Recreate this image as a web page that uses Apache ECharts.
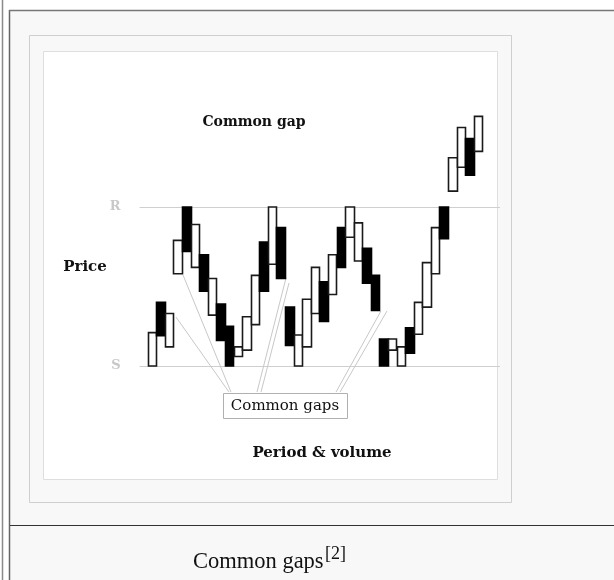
<!DOCTYPE html>
<html lang="en">
<head>
  <meta charset="UTF-8" />
  <title>Common gaps</title>
  <script src="https://cdn.jsdelivr.net/npm/echarts@6/dist/echarts.min.js"></script>
  <style>
    html, body { margin: 0; padding: 0; background: #fff; }
  </style>
</head>
<body>
  <div id="main" style="width: 614px; height: 580px;"></div>
  <script type="text/javascript">
    // price units: S line = 0, R line = 100
    let periods = Array.from({ length: 39 }, (_, i) => String(i + 1));
    let opens  = [0, 40, 12, 58, 100, 62, 70, 32, 39, 25, 6, 10, 26, 78, 64, 87, 37, 0, 12, 33,
                  53, 45, 87, 81, 66, 74, 57, 17, 10, 0, 24, 20, 37, 58, 100, 110, 125, 143, 135];
    let closes = [21, 19, 33, 79, 72, 89, 47, 55, 16, 0, 12, 31, 57, 47, 100, 55, 13, 19.5, 42, 62,
                  28, 70, 62, 100, 90, 52, 35, 0, 17, 12, 8, 40, 65, 87, 80, 131, 150, 120, 157];
    let support = 0;
    let resistance = 100;
    // leader lines from each gap to the "Common gaps" box: [[from], [to]] as [slot, price]
    let gapLeaders = [
      [[5.06, 57.2], [10.65, -16.4]],
      [[4.24, 30.8], [10.42, -16.4]],
      [[17.06, 55.3], [13.68, -16.4]],
      [[17.41, 52.2], [14.15, -16.4]],
      [[28.13, 34.6], [22.89, -16.4]],
      [[28.83, 34.6], [23.36, -16.4]]
    ];

    // one empty slot before, two after, so the R / S lines run past the candles
    let categories = [''].concat(periods, ['', '']);
    let candles = ['-'].concat(opens.map(function (o, i) {
      let c = closes[i];
      return [o, c, Math.min(o, c), Math.max(o, c)];
    }), ['-', '-']);

    let serif = '"DejaVu Serif", serif';
    let capFont = '"Liberation Serif", "Times New Roman", serif';

    var myChart = echarts.init(document.getElementById('main'));

    let leaderSeries = gapLeaders.map(function (seg) {
      return {
        type: 'line',
        xAxisIndex: 1,
        yAxisIndex: 0,
        data: seg,
        symbol: 'none',
        silent: true,
        z: 1,
        lineStyle: { color: '#c8c8c8', width: 1 }
      };
    });

    myChart.setOption({
      backgroundColor: '#fff',
      animation: false,
      graphic: [
        // wiki-style thumbnail frame
        { type: 'rect', z: -10, shape: { x: 9, y: 10, width: 606, height: 571 }, style: { fill: '#f8f8f8' } },
        { type: 'line', z: -9, shape: { x1: 2.5, y1: 0, x2: 2.5, y2: 580 }, style: { stroke: '#8a8a8a', lineWidth: 1.5 } },
        { type: 'line', z: -9, shape: { x1: 9.5, y1: 10, x2: 9.5, y2: 580 }, style: { stroke: '#666', lineWidth: 1.5 } },
        { type: 'line', z: -9, shape: { x1: 9, y1: 10.5, x2: 614, y2: 10.5 }, style: { stroke: '#777', lineWidth: 1.5 } },
        { type: 'rect', z: -8, shape: { x: 29.5, y: 35.5, width: 482, height: 467 }, style: { fill: '#f8f8f8', stroke: '#cfcfcf', lineWidth: 1 } },
        { type: 'rect', z: -7, shape: { x: 43.5, y: 51.5, width: 454, height: 428 }, style: { fill: '#fff', stroke: '#dedede', lineWidth: 1 } },
        { type: 'line', z: -9, shape: { x1: 10, y1: 525.5, x2: 614, y2: 525.5 }, style: { stroke: '#333', lineWidth: 1.2 } },
        // caption
        { type: 'text', x: 193, y: 562, style: { text: 'Common gaps', font: '22.5px ' + capFont, fill: '#111', verticalAlign: 'middle' } },
        { type: 'text', x: 325, y: 554, style: { text: '[2]', font: '18px ' + capFont, fill: '#111', verticalAlign: 'middle' } },
        // texts inside the picture
        { type: 'text', x: 254, y: 122, style: { text: 'Common gap', font: 'bold 14px ' + serif, fill: '#111', align: 'center', verticalAlign: 'middle' } },
        { type: 'text', x: 85, y: 267, style: { text: 'Price', font: 'bold 15px ' + serif, fill: '#111', align: 'center', verticalAlign: 'middle' } },
        { type: 'text', x: 322, y: 453, style: { text: 'Period & volume', font: 'bold 15px ' + serif, fill: '#111', align: 'center', verticalAlign: 'middle' } },
        {
          type: 'group', z: 50,
          children: [
            { type: 'rect', shape: { x: 223.5, y: 393.5, width: 124, height: 25 }, style: { fill: '#fff', stroke: '#b0b0b0', lineWidth: 1 } },
            { type: 'text', x: 285, y: 406, style: { text: 'Common gaps', font: '15px ' + serif, fill: '#111', align: 'center', verticalAlign: 'middle' } }
          ]
        }
      ],
      grid: { left: 139.6, top: 95.7, width: 360.4, height: 365.7 },
      xAxis: [
        { type: 'category', data: categories, show: false, boundaryGap: true },
        { type: 'value', min: 0, max: categories.length, show: false, splitLine: { show: false } }
      ],
      yAxis: { type: 'value', min: -60, max: 170, show: false, splitLine: { show: false } },
      series: [
        {
          type: 'candlestick',
          data: candles,
          barWidth: 9,
          z: 5,
          itemStyle: {
            color: '#fff',
            color0: '#000',
            borderColor: '#1a1a1a',
            borderColor0: '#000',
            borderWidth: 1.6
          },
          markLine: {
            silent: true,
            symbol: 'none',
            z: 1,
            lineStyle: { color: '#cfcfcf', width: 1, type: 'solid' },
            label: {
              position: 'start',
              distance: 19,
              color: '#c8c8c8',
              fontFamily: serif,
              fontWeight: 'bold',
              fontSize: 13
            },
            data: [
              { yAxis: resistance, label: { formatter: 'R' } },
              { yAxis: support, label: { formatter: 'S' } }
            ]
          }
        }
      ].concat(leaderSeries)
    });
  </script>
</body>
</html>
